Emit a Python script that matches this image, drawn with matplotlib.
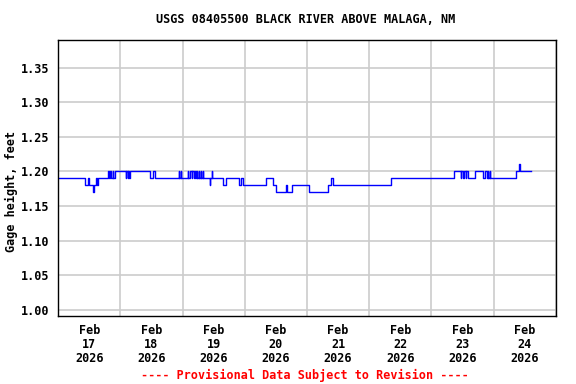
import matplotlib
matplotlib.use("Agg")
import matplotlib.pyplot as plt
import matplotlib.dates as mdates
import pandas as pd

# Gage height readings, change points of the step series (Feb 2026)
change_times = [
    "02-17 00:00", "02-17 10:30", "02-17 11:30", "02-17 12:00", "02-17 13:30",
    "02-17 14:00", "02-17 14:45", "02-17 15:00", "02-17 15:30", "02-17 19:15",
    "02-17 19:45", "02-17 20:00", "02-17 20:30", "02-17 21:00", "02-17 21:15",
    "02-17 21:45", "02-18 02:00", "02-18 02:15", "02-18 02:45", "02-18 03:00",
    "02-18 03:30", "02-18 03:45", "02-18 11:30", "02-18 12:45", "02-18 13:15",
    "02-18 22:30", "02-18 22:45", "02-18 23:15", "02-18 23:30", "02-19 02:00",
    "02-19 02:15", "02-19 03:00", "02-19 03:30", "02-19 03:45", "02-19 04:15",
    "02-19 04:45", "02-19 05:00", "02-19 05:30", "02-19 05:45", "02-19 06:15",
    "02-19 06:30", "02-19 07:00", "02-19 07:15", "02-19 07:45", "02-19 08:00",
    "02-19 10:30", "02-19 10:45", "02-19 11:15", "02-19 11:30", "02-19 15:30",
    "02-19 16:45", "02-19 21:45", "02-19 22:30", "02-19 23:15", "02-20 08:00",
    "02-20 10:45", "02-20 12:00", "02-20 15:45", "02-20 16:15", "02-20 18:15",
    "02-21 00:45", "02-21 08:15", "02-21 09:15", "02-21 10:00", "02-22 08:30",
    "02-23 08:45", "02-23 11:15", "02-23 11:30", "02-23 12:00", "02-23 12:30",
    "02-23 13:15", "02-23 13:30", "02-23 14:15", "02-23 16:45", "02-23 20:00",
    "02-23 20:30", "02-23 21:15", "02-23 21:45", "02-23 22:00", "02-23 22:30",
    "02-23 22:45", "02-24 08:30", "02-24 09:45", "02-24 10:00", "02-24 14:15",
]
gage_ft = [
    1.19, 1.18, 1.19, 1.18, 1.17,
    1.18, 1.19, 1.18, 1.19, 1.20,
    1.19, 1.20, 1.19, 1.20, 1.19,
    1.20, 1.19, 1.20, 1.19, 1.20,
    1.19, 1.20, 1.19, 1.20, 1.19,
    1.20, 1.19, 1.20, 1.19, 1.20,
    1.19, 1.20, 1.19, 1.20, 1.19,
    1.20, 1.19, 1.20, 1.19, 1.20,
    1.19, 1.20, 1.19, 1.20, 1.19,
    1.18, 1.19, 1.20, 1.19, 1.18,
    1.19, 1.18, 1.19, 1.18, 1.19,
    1.18, 1.17, 1.18, 1.17, 1.18,
    1.17, 1.18, 1.19, 1.18, 1.19,
    1.20, 1.19, 1.20, 1.19, 1.20,
    1.19, 1.20, 1.19, 1.20, 1.19,
    1.20, 1.19, 1.20, 1.19, 1.20,
    1.19, 1.20, 1.21, 1.20, 1.20,
]
y_ticks = [1.00, 1.05, 1.10, 1.15, 1.20, 1.25, 1.30, 1.35]

times = pd.to_datetime(["2026-" + t for t in change_times])

FONT = "DejaVu Sans Mono"

fig = plt.figure(figsize=(5.76, 3.84), dpi=100)
ax = fig.add_axes([0.101, 0.177, 0.864, 0.719])

ax.plot(times, gage_ft, drawstyle="steps-post", color="#0000ff", lw=1.0)

# Axes limits and grid
ax.set_xlim(pd.Timestamp("2026-02-17"), pd.Timestamp("2026-02-25"))
ax.set_ylim(0.991, 1.390)
ax.set_yticks(y_ticks)
ax.set_yticklabels([f"{v:.2f}" for v in y_ticks], family=FONT,
                   weight="bold", fontsize=8.5)

ax.xaxis.set_major_locator(mdates.DayLocator())
ax.xaxis.set_major_formatter(plt.NullFormatter())
ax.xaxis.set_minor_locator(mdates.HourLocator(byhour=[12]))
ax.xaxis.set_minor_formatter(mdates.DateFormatter("%b\n%d\n%Y"))
for lab in ax.xaxis.get_minorticklabels():
    lab.set_family(FONT)
    lab.set_weight("bold")
    lab.set_fontsize(8.5)
    lab.set_linespacing(1.1)

ax.tick_params(axis="both", which="both", length=0, pad=6)
ax.grid(True, which="major", color="#cccccc", lw=1.2)
ax.set_axisbelow(True)
for s in ax.spines.values():
    s.set_color("black")
    s.set_linewidth(1.0)

# Annotate
fig.text(0.53, 0.948, "USGS 08405500 BLACK RIVER ABOVE MALAGA, NM",
         ha="center", va="center", family=FONT, weight="bold", fontsize=8.5)
ax.set_ylabel("Gage height, feet", family=FONT, weight="bold", fontsize=8.5)
ax.yaxis.set_label_coords(-0.08, 0.45)
fig.text(0.53, 0.023, "---- Provisional Data Subject to Revision ----",
         ha="center", va="center", family=FONT, weight="bold",
         fontsize=8.5, color="red")

fig.savefig("out.png", dpi=100)
